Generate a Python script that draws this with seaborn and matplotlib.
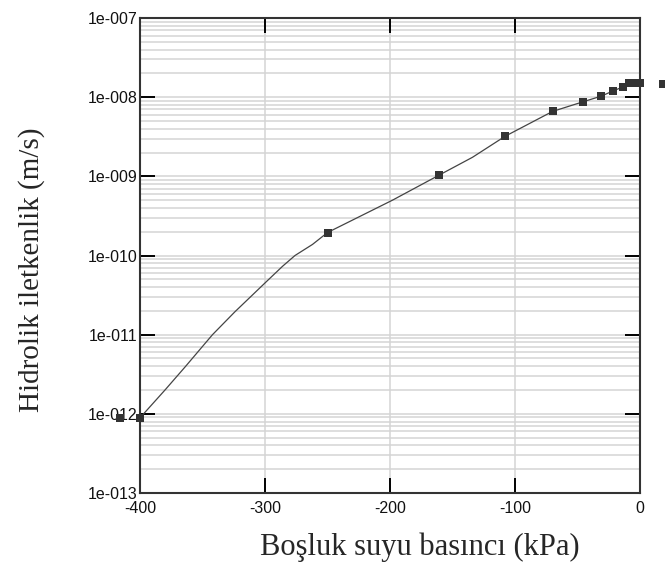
import matplotlib
matplotlib.use("Agg")
import matplotlib.pyplot as plt
import matplotlib.ticker as mticker
import seaborn as sns
import pandas as pd
import numpy as np

# Curve (fitted hydraulic conductivity function)
line_pressure = [-400, -380, -364, -342, -324, -300, -286, -276, -262, -250,
                 -198, -161, -134, -108, -70, -46, -31, -22, -14, -9, -4, 0]
line_k = [8.9e-13, 2.0e-12, 3.9e-12, 1.0e-11, 1.95e-11, 4.5e-11, 7.3e-11, 1.0e-10,
          1.38e-10, 1.95e-10, 5.0e-10, 1.03e-9, 1.74e-9, 3.2e-9, 6.6e-9, 8.7e-9,
          1.03e-8, 1.19e-8, 1.34e-8, 1.48e-8, 1.52e-8, 1.52e-8]

# Data points (markers)
pt_pressure = [-416, -400, -250, -161, -108, -70, -46, -31, -22, -14, -9, -6, -3, 0, 18]
pt_k = [8.9e-13, 8.9e-13, 1.95e-10, 1.03e-9, 3.2e-9, 6.6e-9, 8.7e-9, 1.03e-8,
        1.19e-8, 1.34e-8, 1.5e-8, 1.52e-8, 1.52e-8, 1.52e-8, 1.46e-8]

x_ticks = [-400, -300, -200, -100, 0]
x_tick_labels = ["-400", "-300", "-200", "-100", "0"]
y_ticks = [1e-13, 1e-12, 1e-11, 1e-10, 1e-9, 1e-8, 1e-7]
y_tick_labels = ["1e-013", "1e-012", "1e-011", "1e-010", "1e-009", "1e-008", "1e-007"]

xlabel = "Boşluk suyu basıncı (kPa)"
ylabel = "Hidrolik iletkenlik (m/s)"

sns.set_style("white")
plt.rcParams["font.family"] = ["Liberation Sans", "DejaVu Sans"]

fig = plt.figure(figsize=(6.65, 5.7), dpi=100)
ax = fig.add_axes([140 / 665, 1 - 493 / 570, 500 / 665, 475 / 570])

line_df = pd.DataFrame({"p": line_pressure, "k": line_k})
pt_df = pd.DataFrame({"p": pt_pressure, "k": pt_k})

ax.set_yscale("log")
sns.lineplot(data=line_df, x="p", y="k", ax=ax, color="#444444", linewidth=0.9,
             sort=False, estimator=None, zorder=3)
sns.scatterplot(data=pt_df, x="p", y="k", ax=ax, color="#333333", marker="s",
                s=34, linewidth=0, zorder=4, clip_on=False)

ax.set_xlim(-400, 0)
ax.set_ylim(1e-13, 1e-7)

ax.set_xticks(x_ticks)
ax.set_xticklabels(x_tick_labels)
ax.set_yticks(y_ticks)
ax.set_yticklabels(y_tick_labels)
ax.yaxis.set_minor_locator(mticker.LogLocator(base=10, subs=np.arange(2, 10)))
ax.yaxis.set_minor_formatter(mticker.NullFormatter())

ax.grid(True, which="major", axis="both", color="#d4d4d4", linewidth=1.1)
ax.grid(True, which="minor", axis="y", color="#d4d4d4", linewidth=1.1)
ax.set_axisbelow(True)
ax.xaxis.set_zorder(0.6)

ax.tick_params(which="major", direction="in", length=10.5, width=1.4, color="black",
               top=True, right=True, bottom=True, left=True, labelsize=11.5,
               labelcolor="#111111")
ax.tick_params(axis="x", which="major", pad=6)
ax.tick_params(axis="y", which="major", pad=2)
ax.tick_params(which="minor", length=0, left=False, right=False)

for s in ax.spines.values():
    s.set_color("#333333")
    s.set_linewidth(1.5)

ax.set_xlabel(xlabel, fontsize=22, family=["Liberation Serif", "DejaVu Serif"])
ax.set_ylabel(ylabel, fontsize=21, family=["Liberation Serif", "DejaVu Serif"])
ax.xaxis.set_label_coords(0.56, -0.083)
ax.yaxis.set_label_coords(-0.19, 0.47)

fig.savefig("out.png", dpi=100)
